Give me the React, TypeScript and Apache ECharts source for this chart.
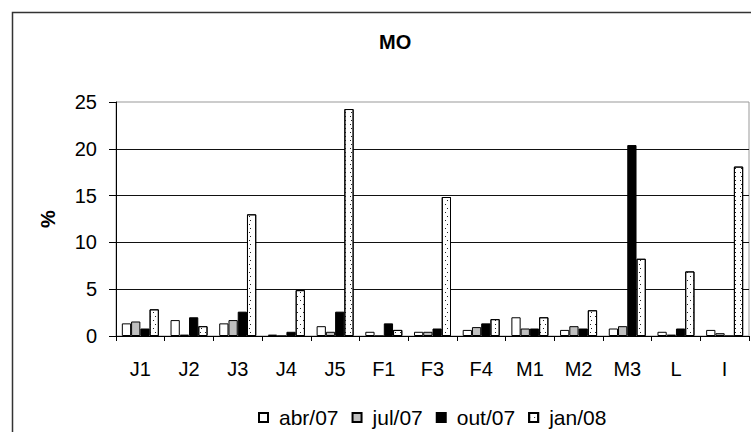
import React, { useEffect, useRef } from "react";
import * as echarts from "echarts";

const categories = ["J1", "J2", "J3", "J4", "J5", "F1", "F3", "F4", "M1", "M2", "M3", "L", "I"];
const seriesNames = ["abr/07", "jul/07", "out/07", "jan/08"];
const abr07 = [1.35, 1.7, 1.35, 0.15, 1.05, 0.45, 0.45, 0.65, 2.0, 0.65, 0.8, 0.45, 0.65];
const jul07 = [1.55, 0.15, 1.7, 0, 0.45, 0, 0.45, 0.95, 0.8, 1.05, 1.05, 0.15, 0.3];
const out07 = [0.8, 2.0, 2.6, 0.45, 2.6, 1.35, 0.8, 1.35, 0.8, 0.8, 20.4, 0.8, 0];
const jan08 = [2.85, 1.05, 13.0, 4.9, 24.25, 0.65, 14.85, 1.8, 2.0, 2.75, 8.25, 6.9, 18.1];
const yTicks = { min: 0, max: 25, interval: 5 };

const FONT = "'Liberation Sans', Arial, sans-serif";

export default function App() {
  const ref = useRef<HTMLDivElement>(null);
  useEffect(() => {
    if (!ref.current) return;
    const chart = echarts.init(ref.current, null, { renderer: "svg" });
    const border = { borderColor: "#000", borderWidth: 1 };
    const dotted = {
      color: "#fff",
      ...border,
      decal: {
        symbol: "rect",
        symbolSize: 1,
        color: "#222",
        backgroundColor: "#fff",
        dashArrayX: [[1, 4], [0, 2.5, 1, 1.5]],
        dashArrayY: [1, 2.5],
      },
    };
    const styles = [
      { color: "#fff", ...border },
      { color: "#c0c0c0", ...border },
      { color: "#000", ...border },
      dotted,
    ];
    const data = [abr07, jul07, out07, jan08];
    chart.setOption({
      animation: false,
      backgroundColor: "#fff",
      textStyle: { fontFamily: FONT, color: "#000" },
      title: {
        text: "MO",
        left: 374,
        top: 27,
        textStyle: { fontFamily: FONT, fontSize: 20, fontWeight: "bold", color: "#000" },
      },
      graphic: [
        {
          type: "rect",
          shape: { x: 12.5, y: 12.5, width: 800, height: 500 },
          style: { fill: "none", stroke: "#333", lineWidth: 1.5 },
          silent: true,
        },
      ],
      legend: {
        left: 253,
        top: 402,
        icon: "rect",
        itemWidth: 9,
        itemHeight: 9,
        itemGap: 13,
        textStyle: { fontFamily: FONT, fontSize: 21, color: "#000", padding: [0, 0, 0, 6] },
        data: seriesNames,
      },
      grid: {
        left: 116,
        top: 102,
        right: 2,
        bottom: 96,
        show: true,
        borderColor: "#999",
        borderWidth: 1,
        backgroundColor: "#fff",
      },
      xAxis: {
        type: "category",
        data: categories,
        axisLine: { lineStyle: { color: "#000", width: 1 } },
        axisTick: { show: true, alignWithLabel: false, length: 5, lineStyle: { color: "#000" } },
        axisLabel: { fontFamily: FONT, fontSize: 20, color: "#000", margin: 23 },
      },
      yAxis: {
        type: "value",
        min: yTicks.min,
        max: yTicks.max,
        interval: yTicks.interval,
        name: "%",
        nameLocation: "middle",
        nameGap: 58,
        nameRotate: 90,
        nameTextStyle: { fontFamily: FONT, fontSize: 20, fontWeight: "bold", color: "#000" },
        axisLine: { show: true, lineStyle: { color: "#000", width: 1 } },
        axisTick: { show: true, length: 7, lineStyle: { color: "#000" } },
        axisLabel: { fontFamily: FONT, fontSize: 20, color: "#000", margin: 19 },
        splitLine: { show: true, showMaxLine: false, lineStyle: { color: "#111", width: 1 } },
      },
      series: seriesNames.map((name, i) => ({
        name,
        type: "bar",
        data: data[i],
        barGap: "0%",
        barCategoryGap: "24%",
        itemStyle: styles[i],
      })),
    });
    return () => chart.dispose();
  }, []);
  return (
    <div
      ref={ref}
      style={{ position: "fixed", left: 0, top: 0, width: 751, height: 432 }}
    />
  );
}
